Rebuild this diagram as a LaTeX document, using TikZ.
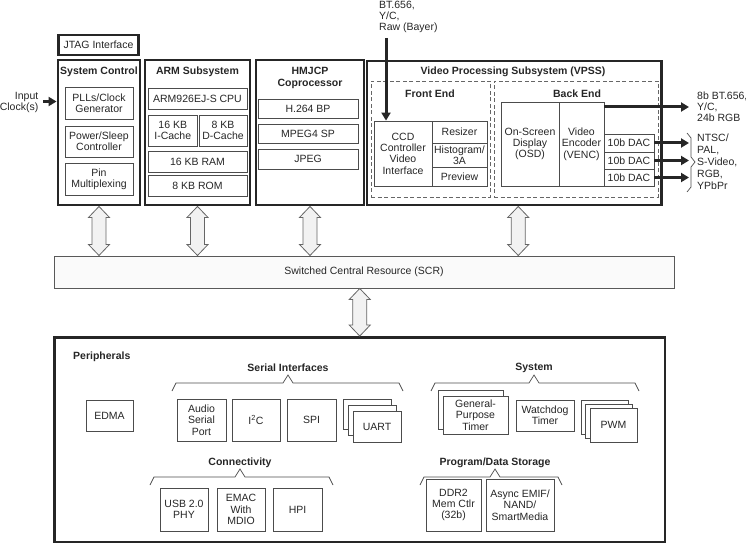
\documentclass[tikz,border=0pt]{standalone}
\usepackage{fontspec}
\setmainfont{Liberation Sans}
\usetikzlibrary{arrows.meta,calc}

\newcommand{\diafont}{\fontsize{10.5}{11.4}\selectfont}

\tikzset{
  unit/.style={draw=black!70, line width=0.8pt, align=center, inner sep=0.5pt},
  heavy/.style={draw=black!85, line width=2.9pt},
  stage/.style={draw=black!60, line width=0.7pt, dash pattern=on 4pt off 2.5pt},
  heading/.style={font=\diafont\bfseries, align=center, inner sep=0pt},
  note/.style={font=\fontsize{10.5}{11}\selectfont, align=left, inner sep=0pt},
  fat/.style={draw=black!85, line width=3pt, -{Triangle[length=8pt,width=9pt]}},
  bus/.style={draw=black!60, fill=black!5, line width=0.8pt},
  brace/.style={draw=black!70, line width=0.7pt},
}

% box from (x1,y1) to (x2,y2)
\newcommand{\blockbox}[7][]{%
  \node[unit,#1,minimum width={(#5-#3)*1pt},minimum height={(#6-#4)*1pt}]
    (#2) at ({(#3+#5)/2},{(#4+#6)/2}) {#7};}

% hollow two-headed bus arrow between two points
\newcommand{\busarrow}[2]{%
  \draw[bus] let \p1=(#1), \p2=(#2) in
    (\x1,\y1) -- (\x1+10.5pt,\y1-11pt) -- (\x1+7pt,\y1-11pt) -- (\x1+7pt,\y2+11pt)
    -- (\x1+10.5pt,\y2+11pt) -- (\x1,\y2) -- (\x1-10.5pt,\y2+11pt) -- (\x1-7pt,\y2+11pt)
    -- (\x1-7pt,\y1-11pt) -- (\x1-10.5pt,\y1-11pt) -- cycle;}

% group brace: left x, tip x, right x, bar y
\newcommand{\grpbrace}[4]{%
  \draw[brace] (#1,#4+8) -- (#1+4,#4) -- (#2-5,#4) -- (#2,#4-8) -- (#2+5,#4)
    -- (#3-4,#4) -- (#3,#4+8);}

\begin{document}
\begin{tikzpicture}[x=1pt, y=-1pt, font=\diafont, text=black!85]
\useasboundingbox (0,0) rectangle (746,545);

% top row
\blockbox[heavy]{jtag}{58.5}{35}{138.5}{55}{JTAG Interface}
\blockbox[heavy]{sysctl}{58}{60}{140}{205}{}
\blockbox[heavy]{arm}{145}{60}{250}{205}{}
\blockbox[heavy]{hmjcp}{256}{60}{364}{205}{}
\blockbox[heavy]{vpss}{367}{61}{661.5}{205}{}

% system control
\node[heading] (sysname) at (99,72) {System Control};
\blockbox{pll}{65}{87}{133}{119}{PLLs/Clock\\Generator}
\blockbox{psc}{65}{126}{133}{157}{Power/Sleep\\Controller}
\blockbox{pinmux}{65}{163}{133}{195}{Pin\\Multiplexing}

% ARM subsystem
\node[heading] (armname) at (197.5,72) {ARM Subsystem};
\blockbox{cpu}{148}{88}{247}{109}{ARM926EJ-S CPU}
\blockbox{icache}{148}{115}{197.5}{146}{16 KB\\I-Cache}
\blockbox{dcache}{199}{115}{247}{146}{8 KB\\D-Cache}
\blockbox{ram}{148}{151.5}{247}{172}{16 KB RAM}
\blockbox{rom}{148}{175.5}{247}{196}{8 KB ROM}

% coprocessor
\node[heading] (hmname) at (310,78) {HMJCP\\Coprocessor};
\blockbox{h264}{258}{99}{358}{118}{H.264 BP}
\blockbox{mpeg}{258}{124}{358}{143}{MPEG4 SP}
\blockbox{jpeg}{258}{149}{358}{169}{JPEG}

% VPSS
\node[heading] (vpssname) at (513,72) {Video Processing Subsystem (VPSS)};
\blockbox[stage]{fe}{371}{81}{490}{197}{}
\blockbox[stage]{be}{494}{81}{658}{197}{}
\node[heading] (fename) at (430,94) {Front End};
\node[heading] (bename) at (577,94) {Back End};
\blockbox{ccd}{374}{121}{432}{186}{CCD\\Controller\\Video\\Interface}
\blockbox{resz}{432}{121}{487}{143}{Resizer}
\blockbox{hist}{432}{143}{487}{167}{Histogram/\\3A}
\blockbox{prev}{432}{167}{487}{186}{Preview}
\blockbox{osd}{501}{102}{559}{186}{On-Screen\\Display\\(OSD)}
\blockbox{venc}{559}{102}{604}{186}{Video\\Encoder\\(VENC)}
\blockbox{daca}{604}{134}{654}{152}{10b DAC}
\blockbox{dacb}{604}{152}{654}{169}{10b DAC}
\blockbox{dacc}{604}{169}{654}{186}{10b DAC}

% video in and out
\coordinate (vidin) at (386,38);
\draw[fat] (vidin) -- (vidin |- ccd.north);
\node[note, anchor=north west] (vidlbl) at (379,0.5) {BT.656,\\Y/C,\\Raw (Bayer)};
\coordinate (outvid) at (689,107);
\draw[fat] (venc.east |- outvid) -- (outvid);
\node[note, anchor=west] (outlbl) at (697,107) {8b BT.656,\\Y/C,\\24b RGB};
\foreach \d in {daca,dacb,dacc}
  \draw[fat] (\d.east) -- (\d.east -| outvid);
\draw[brace] (687,133) -- (691,138) -- (691,157) -- (695,162) -- (691,167) -- (691,187) -- (687,192);
\node[note, anchor=west, font=\fontsize{10.5}{12}\selectfont] (dacfmt) at (697,162) {NTSC/\\PAL,\\S-Video,\\RGB,\\YPbPr};

% clock in
\coordinate (clkin) at (43,101.5);
\draw[fat] (clkin) -- (clkin -| sysctl.west);
\node[note, align=right, anchor=east] (clklbl) at (38.5,102.5) {Input\\Clock(s)};

% switched central resource
\blockbox[draw=black!65, fill=black!2, line width=1pt]{scr}{54}{256}{674}{288}{Switched Central Resource (SCR)}
\coordinate (vpssport) at ($(vpss.south)+(4,0)$);
\busarrow{sysctl.south}{sysctl.south |- scr.north}
\busarrow{arm.south}{arm.south |- scr.north}
\busarrow{hmjcp.south}{hmjcp.south |- scr.north}
\busarrow{vpssport}{vpssport |- scr.north}

% peripherals
\blockbox[heavy]{periph}{54.5}{337.5}{665}{542}{}
\busarrow{periph.north |- scr.south}{periph.north}
\node[heading, anchor=west] (periphname) at (73,357) {Peripherals};

\node[heading] (serialname) at (288,368) {Serial Interfaces};
\grpbrace{172}{288}{403}{383}
\blockbox{edma}{86}{400}{133}{431}{EDMA}
\blockbox{asp}{177}{399}{226}{441}{Audio\\Serial\\Port}
\blockbox{iic}{232}{399}{280}{441}{I\textsuperscript{2}C}
\blockbox{spi}{287}{399}{336}{441}{SPI}
\blockbox[fill=white]{uartc}{343}{399}{391}{429.5}{}
\blockbox[fill=white]{uartb}{348}{405}{396}{435.5}{}
\blockbox[fill=white]{uart}{353}{411.5}{401}{442}{UART}

\node[heading] (connname) at (240,463) {Connectivity};
\grpbrace{150}{240}{333}{477}
\blockbox{usb}{160}{488}{208}{531}{USB 2.0\\PHY}
\blockbox{emac}{217}{488}{265}{531}{EMAC\\With\\MDIO}
\blockbox{hpi}{273}{488}{322}{531}{HPI}

\node[heading] (sysgrp) at (534,368) {System};
\grpbrace{431}{534}{639}{383}
\blockbox[fill=white]{gptb}{438}{390}{503}{429}{}
\blockbox[fill=white]{gpt}{443}{396}{508}{434}{General-\\Purpose\\Timer}
\blockbox{wdt}{516}{400}{574}{431}{Watchdog\\Timer}
\blockbox[fill=white]{pwmc}{581}{400}{628}{434}{}
\blockbox[fill=white]{pwmb}{585.5}{404}{632.5}{438}{}
\blockbox[fill=white]{pwm}{590}{408}{637}{442}{PWM}

\node[heading] (storname) at (495,463) {Program/Data Storage};
\grpbrace{420}{495}{562}{477}
\blockbox{ddr}{426}{479}{481}{531}{DDR2\\Mem Ctlr\\(32b)}
\blockbox{emif}{486}{479}{554}{531}{Async EMIF/\\NAND/\\SmartMedia}
\end{tikzpicture}
\end{document}
